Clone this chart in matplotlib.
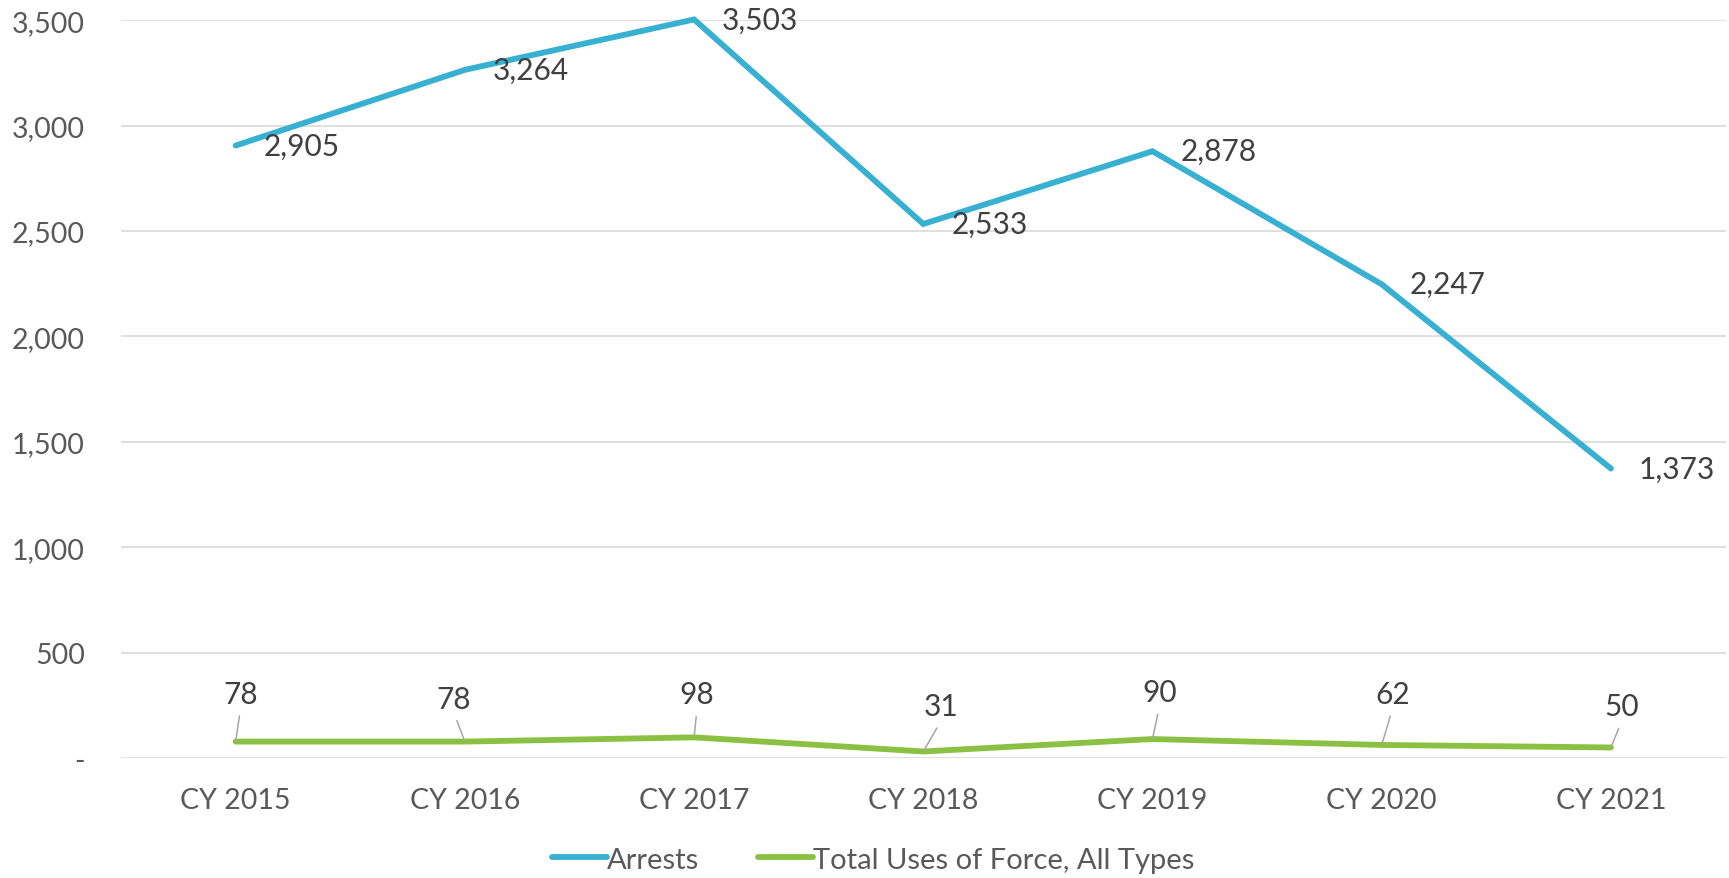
import matplotlib
matplotlib.use("Agg")
import matplotlib.pyplot as plt

plt.rcParams['font.family'] = ['Lato', 'DejaVu Sans']

years = ["CY 2015", "CY 2016", "CY 2017", "CY 2018", "CY 2019", "CY 2020", "CY 2021"]
arrests = [2905, 3264, 3503, 2533, 2878, 2247, 1373]
force = [78, 78, 98, 31, 90, 62, 50]

# label placement for the small series (pixels, relative to the point)
force_offsets = [(5, 48), (-11, 43), (3, 43), (18, 45), (7, 47), (11, 51), (11, 41)]

blue = "#38B0D2"
green = "#8BC143"
text_col = "#404040"
tick_col = "#595959"

fig = plt.figure(figsize=(17.29, 8.79), dpi=100)
ax = fig.add_axes([0.070, 0.1365, 0.928, 0.8395])

x = list(range(len(years)))
ax.plot(x, arrests, color=blue, lw=4.2, solid_capstyle='round', solid_joinstyle='miter',
        label="Arrests", zorder=3, clip_on=False)
ax.plot(x, force, color=green, lw=4.2, solid_capstyle='round', solid_joinstyle='miter',
        label="Total Uses of Force, All Types", zorder=3, clip_on=False)

for xi, v in zip(x, arrests):
    ax.annotate(f"{v:,}", (xi, v), xytext=(28, 0), textcoords='offset pixels',
                ha='left', va='center', fontsize=21.5, color=text_col,
                annotation_clip=False)

for xi, v, (dx, dy) in zip(x, force, force_offsets):
    ax.annotate(f"{v:,}", (xi, v), xytext=(dx, dy), textcoords='offset pixels',
                ha='center', va='center', fontsize=21.5, color=text_col,
                annotation_clip=False,
                arrowprops=dict(arrowstyle='-', color='#A6A6A6', lw=1.1,
                                relpos=(0.5, 0.0), shrinkA=4, shrinkB=1))

ax.set_xlim(-0.5, 6.5)
ax.set_ylim(0, 3500)
ax.set_yticks(range(0, 3501, 500))
ax.set_yticklabels(["-" if t == 0 else f"{t:,}" for t in range(0, 3501, 500)])
ax.set_xticks(x)
ax.set_xticklabels(years)
ax.tick_params(axis='both', length=0, labelsize=20.5, colors=tick_col)
ax.tick_params(axis='y', pad=26)
ax.tick_params(axis='x', pad=21)
ax.grid(axis='y', color='#D9D9D9', lw=1.2)
ax.set_axisbelow(True)
for s in ax.spines.values():
    s.set_visible(False)

fig.legend(loc='center', bbox_to_anchor=(0.505, 0.021), ncol=2, frameon=False,
           fontsize=21, labelcolor=tick_col, handlelength=1.9, handletextpad=0.0,
           columnspacing=2.0)

fig.savefig("out.png", dpi=100)
